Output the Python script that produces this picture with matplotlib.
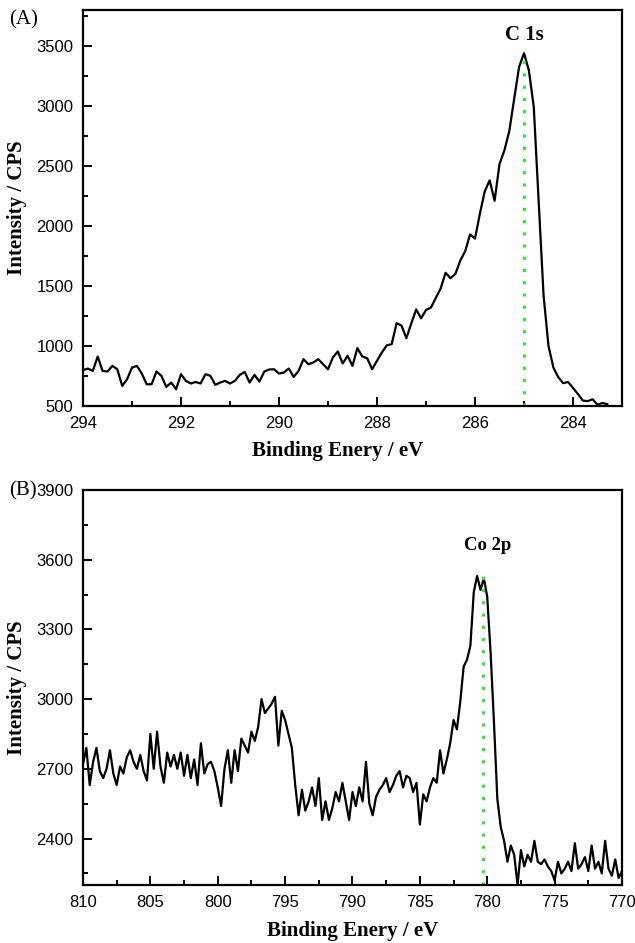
import numpy as np
import matplotlib
matplotlib.use("Agg")
import matplotlib.pyplot as plt
from matplotlib.ticker import MultipleLocator

# (A) C 1s region, 0.1 eV steps from 294.0 down to 283.3
c1s_counts = [798,
              812, 792, 912, 792, 787, 834, 806, 667, 723, 820,
              834, 770, 681, 681, 787, 751, 659, 695, 639, 765,
              709, 687, 700, 687, 765, 751, 676, 695, 709, 687,
              709, 759, 784, 695, 759, 703, 787, 804, 806, 770,
              779, 812, 742, 792, 890, 848, 862, 890, 848, 806,
              904, 954, 854, 918, 834, 982, 912, 898, 806, 876,
              946, 1005, 1015, 1190, 1170, 1065, 1188, 1305, 1230, 1300,
              1320, 1400, 1480, 1610, 1565, 1600, 1712, 1790, 1930, 1895,
              2102, 2290, 2380, 2210, 2515, 2630, 2790, 3060, 3325, 3440,
              3297, 2991, 2200, 1420, 1000, 820, 740, 690, 700, 650,
              600, 545, 540, 556, 510, 525, 515]
c1s_energy = np.linspace(294.0, 283.3, len(c1s_counts))
c1s_peak = 285.0
c1s_peak_top = 3450

# (B) Co 2p region, 0.25 eV steps from 810 down to 770
co2p_counts = [2720,
               2790, 2630, 2730, 2790,
               2690, 2660, 2700, 2780,
               2680, 2630, 2710, 2680,
               2750, 2780, 2730, 2700,
               2760, 2690, 2650, 2850,
               2700, 2860, 2710, 2640,
               2770, 2710, 2760, 2700,
               2770, 2670, 2760, 2660,
               2740, 2630, 2810, 2680,
               2720, 2730, 2690, 2620,
               2540, 2700, 2780, 2640,
               2780, 2690, 2830, 2800,
               2770, 2860, 2820, 2880,
               3000, 2940, 2960, 2980,
               3010, 2800, 2950, 2910,
               2850, 2790, 2630, 2500,
               2610, 2520, 2560, 2620,
               2540, 2660, 2480, 2560,
               2480, 2530, 2600, 2560,
               2640, 2560, 2480, 2600,
               2540, 2620, 2560, 2730,
               2550, 2500, 2580, 2610,
               2630, 2660, 2600, 2630,
               2670, 2690, 2620, 2670,
               2660, 2600, 2640, 2460,
               2590, 2560, 2620, 2660,
               2640, 2780, 2680, 2740,
               2810, 2910, 2870, 2990,
               3140, 3170, 3230, 3460,
               3530, 3470, 3520, 3440,
               3200, 2900, 2570, 2450,
               2390, 2300, 2370, 2330,
               2200, 2350, 2280, 2330,
               2300, 2390, 2300, 2290,
               2310, 2280, 2260, 2220,
               2300, 2250, 2270, 2300,
               2260, 2380, 2270, 2290,
               2320, 2260, 2370, 2270,
               2300, 2250, 2390, 2270,
               2240, 2310, 2230, 2260]
co2p_energy = np.linspace(810.0, 770.0, len(co2p_counts))
co2p_peak = 780.3
co2p_peak_top = 3535

serif = ['Liberation Serif', 'DejaVu Serif']
sans = ['Liberation Sans', 'DejaVu Sans']
green = '#22ee22'


def style_axes(ax):
    for s in ax.spines.values():
        s.set_linewidth(1.6)
    ax.tick_params(which='both', direction='in', top=False, right=False,
                   width=1.4, pad=7, labelsize=12)
    ax.tick_params(which='major', length=6.5)
    ax.tick_params(which='minor', length=3.5)
    for lab in ax.get_xticklabels() + ax.get_yticklabels():
        lab.set_family(sans)


fig = plt.figure(figsize=(6.35, 9.43), dpi=100)

# panel A
axA = fig.add_axes([0.1307, 0.5695, 0.8488, 0.4199])
axA.plot(c1s_energy, c1s_counts, color='black', lw=1.6)
axA.plot([c1s_peak, c1s_peak], [500, c1s_peak_top], color=green, lw=2.2,
         linestyle=(0, (1, 3)))
axA.set_xlim(294, 283)
axA.set_ylim(500, 3800)
axA.xaxis.set_major_locator(MultipleLocator(2))
axA.xaxis.set_minor_locator(MultipleLocator(1))
axA.yaxis.set_major_locator(MultipleLocator(500))
axA.yaxis.set_minor_locator(MultipleLocator(250))
style_axes(axA)
axA.set_xlabel('Binding Enery / eV', family=serif, weight='bold', fontsize=15)
axA.set_ylabel('Intensity / CPS', family=serif, weight='bold', fontsize=15)
axA.xaxis.set_label_coords(0.473, -0.088)
axA.yaxis.set_label_coords(-0.104, 0.5)
axA.text(c1s_peak, 3548, 'C 1s', family=serif, weight='bold', fontsize=15,
         ha='center', va='baseline')
fig.text(24 / 635, 1 - 20 / 943, '(A)', family=serif, fontsize=15,
         ha='center', va='center')

# panel B
axB = fig.add_axes([0.1307, 0.0615, 0.8488, 0.4189])
axB.plot(co2p_energy, co2p_counts, color='black', lw=1.6)
axB.plot([co2p_peak, co2p_peak], [2200, co2p_peak_top], color=green, lw=2.2,
         linestyle=(0, (1, 3)))
axB.set_xlim(810, 770)
axB.set_ylim(2200, 3900)
axB.xaxis.set_major_locator(MultipleLocator(5))
axB.xaxis.set_minor_locator(MultipleLocator(2.5))
axB.yaxis.set_major_locator(MultipleLocator(300))
axB.yaxis.set_minor_locator(MultipleLocator(150))
style_axes(axB)
axB.set_xlabel('Binding Enery / eV', family=serif, weight='bold', fontsize=15)
axB.set_ylabel('Intensity / CPS', family=serif, weight='bold', fontsize=15)
axB.xaxis.set_label_coords(0.5, -0.091)
axB.yaxis.set_label_coords(-0.104, 0.5)
axB.text(780.0, 3641, 'Co 2p', family=serif, weight='bold', fontsize=13.5,
         ha='center', va='baseline')
fig.text(23 / 635, 1 - 491 / 943, '(B)', family=serif, fontsize=15,
         ha='center', va='center')

fig.savefig('out.png', dpi=100)
